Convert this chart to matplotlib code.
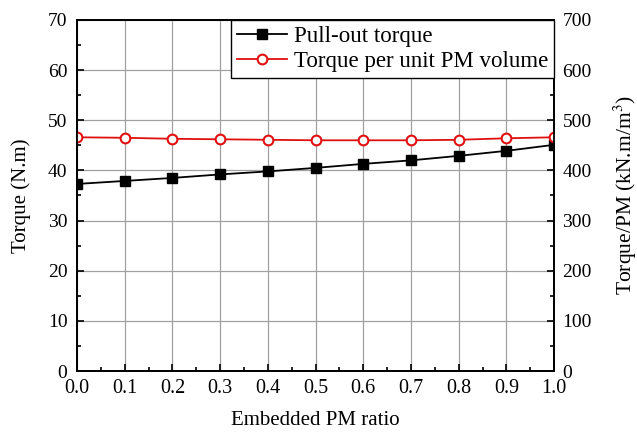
import matplotlib.pyplot as plt
from matplotlib.ticker import MultipleLocator

plt.rcParams['font.family'] = ['Liberation Serif', 'DejaVu Serif']
plt.rcParams['mathtext.fontset'] = 'stix'

# embedded PM ratio vs. torque results
ratio = [0.0, 0.1, 0.2, 0.3, 0.4, 0.5, 0.6, 0.7, 0.8, 0.9, 1.0]
pullout_torque = [37.3, 37.9, 38.5, 39.2, 39.8, 40.5, 41.3, 42.0, 42.9, 43.9, 45.1]
torque_per_pm = [466, 465, 463, 462, 461, 460, 460, 460, 461, 464, 466]

fig = plt.figure(figsize=(6.37, 4.32), dpi=100)
ax = fig.add_axes([0.121, 0.141, 0.749, 0.813])
ax2 = ax.twinx()

l1, = ax.plot(ratio, pullout_torque, color='black', marker='s', markersize=7,
              linewidth=1.3, label='Pull-out torque')
l2, = ax2.plot(ratio, torque_per_pm, color='#e01010', marker='o', markersize=7,
               markerfacecolor='white', markeredgewidth=1.5, linewidth=1.3,
               label='Torque per unit PM volume')

ax.set_xlim(0, 1.0)
ax.set_ylim(0, 70)
ax2.set_ylim(0, 700)
ax.xaxis.set_major_locator(MultipleLocator(0.1))
ax.xaxis.set_minor_locator(MultipleLocator(0.05))
ax.yaxis.set_major_locator(MultipleLocator(10))
ax.yaxis.set_minor_locator(MultipleLocator(5))
ax2.yaxis.set_major_locator(MultipleLocator(100))
ax2.yaxis.set_minor_locator(MultipleLocator(50))
ax.grid(True, color='#a0a0a0', linewidth=0.9)
ax.set_axisbelow(True)

for a in (ax, ax2):
    a.tick_params(which='both', direction='in', labelsize=14, width=1.2)
    a.tick_params(which='major', length=5)
    a.tick_params(which='minor', length=3)
    for s in a.spines.values():
        s.set_linewidth(1.3)
ax.tick_params(axis='y', pad=7)
ax2.tick_params(axis='y', pad=6)
ax.tick_params(axis='x', pad=6, labelsize=14.5)
ax.xaxis.set_major_formatter(plt.FuncFormatter(lambda v, p: f'{v:.1f}'))

ax.set_xlabel('Embedded PM ratio', fontsize=15, labelpad=9)
ax.set_ylabel('Torque (N.m)', fontsize=15, labelpad=12)
ax2.set_ylabel('Torque/PM (kN.m/m$^3$)', fontsize=15.5, labelpad=14)

leg = ax2.legend(handles=[l1, l2], loc='upper right', fontsize=16.5,
                 fancybox=False, framealpha=1, edgecolor='black',
                 borderaxespad=0, handlelength=2.2, borderpad=0.25,
                 labelspacing=0.2, handletextpad=0.3)
leg.get_frame().set_linewidth(1.0)

fig.savefig('out.png', dpi=100)
